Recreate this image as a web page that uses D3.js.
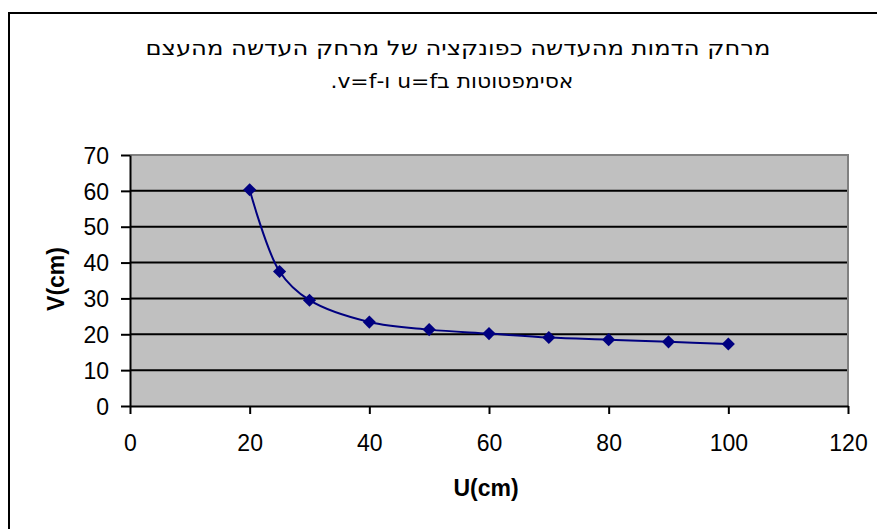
<!DOCTYPE html>
<html>
  <head>
    <meta charset="utf-8">
    <script src="https://d3js.org/d3.v7.min.js"></script>
    <style>
      body { margin: 0; background: #fff; }
    </style>
  </head>
  <body>
<script type="text/javascript">
var titleLines = ['מרחק הדמות מהעדשה כפונקציה של מרחק העדשה מהעצם', 'אסימפטוטות בu=f ו-v=f.'];
var xLabel = 'U(cm)';
var yLabel = 'V(cm)';
var uValues = [20, 25, 30, 40, 50, 60, 70, 80, 90, 100];
var vValues = [60.3, 37.5, 29.5, 23.4, 21.3, 20.2, 19.1, 18.5, 17.9, 17.3];
var xTicks = [0, 20, 40, 60, 80, 100, 120];
var yTicks = [0, 10, 20, 30, 40, 50, 60, 70];

var width = 877, height = 529;
var plot = {left: 130, right: 848, top: 155, bottom: 406};

var svg = d3.select('body').append('svg')
      .attr('width', width)
      .attr('height', height);

// outer chart frame (runs off right and bottom)
svg.append('rect')
    .attr('x', 9).attr('y', 13)
    .attr('width', 900).attr('height', 600)
    .attr('fill', 'none')
    .attr('stroke', '#000')
    .attr('stroke-width', 2);

var x = d3.scaleLinear().domain([0, 120]).range([plot.left, plot.right]);
var y = d3.scaleLinear().domain([0, 70]).range([plot.bottom, plot.top]);

svg.append('rect')
    .attr('x', plot.left).attr('y', plot.top)
    .attr('width', plot.right - plot.left)
    .attr('height', plot.bottom - plot.top)
    .attr('fill', '#c0c0c0');

// gridlines
svg.append('g')
    .selectAll('line')
    .data(yTicks.filter(function(d) { return d > 0 && d < 70; }))
    .enter()
    .append('line')
    .attr('x1', plot.left).attr('x2', plot.right)
    .attr('y1', function(d) { return y(d); })
    .attr('y2', function(d) { return y(d); })
    .attr('stroke', '#000')
    .attr('stroke-width', 2);

// gray top/right border
svg.append('path')
    .attr('d', 'M' + plot.left + ',' + plot.top + 'H' + plot.right + 'V' + plot.bottom)
    .attr('fill', 'none')
    .attr('stroke', '#808080')
    .attr('stroke-width', 2);

var xAxis = svg.append('g')
    .attr('transform', 'translate(0,' + plot.bottom + ')')
    .call(d3.axisBottom(x).tickValues(xTicks).tickSize(8).tickSizeOuter(0).tickPadding(21));
var yAxis = svg.append('g')
    .attr('transform', 'translate(' + plot.left + ',0)')
    .call(d3.axisLeft(y).tickValues(yTicks).tickSize(9).tickSizeOuter(0).tickPadding(12));

[xAxis, yAxis].forEach(function(a) {
  a.select('.domain').attr('stroke', '#000').attr('stroke-width', 2);
  a.selectAll('.tick line').attr('stroke', '#000').attr('stroke-width', 2);
  a.selectAll('.tick text')
      .attr('fill', '#000')
      .style('font-family', '"Liberation Sans", Arial, sans-serif')
      .style('font-size', '23px');
});
yAxis.selectAll('.tick text').attr('dy', '0.36em');

var points = uValues.map(function(u, i) { return [u, vValues[i]]; });

var line = d3.line()
    .x(function(d) { return x(d[0]); })
    .y(function(d) { return y(d[1]); })
    .curve(d3.curveCatmullRom.alpha(0.5));

svg.append('path')
    .datum(points)
    .attr('d', line)
    .attr('fill', 'none')
    .attr('stroke', '#000080')
    .attr('stroke-width', 2);

svg.append('g')
    .selectAll('path')
    .data(points)
    .enter()
    .append('path')
    .attr('d', d3.symbol().type(d3.symbolDiamond2).size(110))
    .attr('transform', function(d) { return 'translate(' + x(d[0]) + ',' + y(d[1]) + ')'; })
    .attr('fill', '#000080');

// title, stretched to the reference widths
var titleWidths = [625, 243];
svg.append('g')
    .selectAll('text')
    .data(titleLines)
    .enter()
    .append('text')
    .attr('x', function(d, i) { return i === 0 ? 458 : 452; })
    .attr('y', function(d, i) { return 55 + i * 33; })
    .attr('text-anchor', 'middle')
    .attr('direction', 'rtl')
    .attr('textLength', function(d, i) { return titleWidths[i]; })
    .attr('lengthAdjust', 'spacingAndGlyphs')
    .style('font-family', '"DejaVu Sans", sans-serif')
    .style('font-size', '20px')
    .text(function(d) { return d; });

svg.append('text')
    .attr('x', 486).attr('y', 496)
    .attr('text-anchor', 'middle')
    .style('font-family', '"Liberation Sans", Arial, sans-serif')
    .style('font-size', '23px')
    .style('font-weight', 'bold')
    .text(xLabel);

svg.append('text')
    .attr('transform', 'translate(64,279) rotate(-90)')
    .attr('text-anchor', 'middle')
    .style('font-family', '"Liberation Sans", Arial, sans-serif')
    .style('font-size', '23px')
    .style('font-weight', 'bold')
    .text(yLabel);
</script>
  </body>
</html>
